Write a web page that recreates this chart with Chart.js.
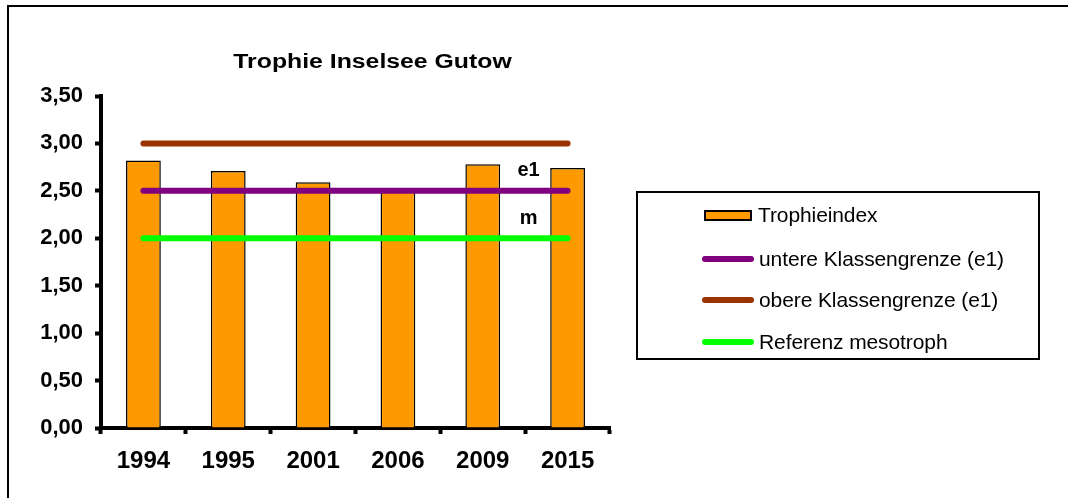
<!DOCTYPE html>
<html>
<head>
<meta charset="utf-8">
<script src="https://cdn.jsdelivr.net/npm/chart.js@4"></script>
<style>
  html, body { margin:0; padding:0; background:#fff; }
  #wrap { position:relative; width:1068px; height:498px; overflow:hidden; font-family:"Liberation Sans", Arial, sans-serif; }
  #frame { position:absolute; left:7px; top:5px; width:1100px; height:600px; border-top:2px solid #000; border-left:2px solid #000; }
  canvas { position:absolute; left:0; top:0; }
  #legend { position:absolute; left:636px; top:191px; width:400px; height:165px; border:2px solid #000; box-sizing:content-box; }
  .item { position:absolute; left:64px; height:24px; display:flex; align-items:center; font-size:21px; color:#000; white-space:nowrap; letter-spacing:-0.1px; }
  .sym { display:inline-block; margin-right:5px; }
</style>
</head>
<body>
<div id="wrap">
  <div id="frame"></div>
  <canvas id="c" width="1068" height="498"></canvas>
  <div id="legend"></div>
</div>
<script>
const chartTitle = 'Trophie Inselsee Gutow';
const categories = ['1994', '1995', '2001', '2006', '2009', '2015'];
const trophieindex = [2.82, 2.71, 2.59, 2.53, 2.78, 2.74];
const untereGrenze = [2.5, 2.5, 2.5, 2.5, 2.5, 2.5];
const obereGrenze = [3.0, 3.0, 3.0, 3.0, 3.0, 3.0];
const referenzMeso = [2.0, 2.0, 2.0, 2.0, 2.0, 2.0];
const yTickLabels = ['0,00', '0,50', '1,00', '1,50', '2,00', '2,50', '3,00', '3,50'];
const seriesNames = ['Trophieindex', 'untere Klassengrenze (e1)', 'obere Klassengrenze (e1)', 'Referenz mesotroph'];
const lineLabels = [{text:'e1', value:2.5}, {text:'m', value:2.0}];

const FONT = '"Liberation Sans", Arial, sans-serif';

const annot = {
  id: 'annot',
  afterDatasetsDraw(chart) {
    const ctx = chart.ctx;
    const xs = chart.scales.x, ys = chart.scales.y;
    ctx.save();
    ctx.fillStyle = '#000';
    ctx.textAlign = 'center';
    ctx.textBaseline = 'middle';
    // title (horizontally stretched like the original)
    const tx = (xs.getPixelForValue(2) + xs.getPixelForValue(3)) / 2 + 17;
    const ty = ys.top - 34;
    ctx.save();
    ctx.translate(tx, ty);
    ctx.scale(1.24, 1);
    ctx.font = 'bold 20px ' + FONT;
    ctx.fillText(chartTitle, 0, 0);
    ctx.restore();
    // line labels
    const x4 = xs.getPixelForValue(4), x5 = xs.getPixelForValue(5);
    const lx = x4 + (x5 - x4) * 0.54;
    ctx.font = 'bold 20px ' + FONT;
    lineLabels.forEach(l => {
      ctx.fillText(l.text, lx, ys.getPixelForValue(l.value + 0.21));
    });
    ctx.restore();
  }
};

const chart = new Chart(document.getElementById('c'), {
  data: {
    labels: categories,
    datasets: [
      { type:'bar', label: seriesNames[0], data: trophieindex, backgroundColor:'#FF9900', borderColor:'#000', borderWidth:1.5, barPercentage:0.41, categoryPercentage:1, order:2 },
      { type:'line', label: seriesNames[1], data: untereGrenze, borderColor:'#800080', borderWidth:6, pointRadius:0, borderCapStyle:'round', order:1 },
      { type:'line', label: seriesNames[2], data: obereGrenze, borderColor:'#993300', borderWidth:6, pointRadius:0, borderCapStyle:'round', order:1 },
      { type:'line', label: seriesNames[3], data: referenzMeso, borderColor:'#00FF00', borderWidth:6, pointRadius:0, borderCapStyle:'round', order:1 }
    ]
  },
  options: {
    responsive:false,
    animation:false,
    devicePixelRatio:1,
    layout: { padding: { left:0, right:458, top:96, bottom:0 } },
    plugins: { legend:{ display:false }, title:{ display:false }, tooltip:{ enabled:false } },
    scales: {
      x: {
        offset:true,
        grid: { display:true, drawOnChartArea:false, offset:true, color:'#000', tickLength:6, tickWidth:4 },
        border: { display:true, color:'#000', width:4 },
        ticks: { color:'#000', font:{ family:FONT, size:24, weight:'bold' }, padding:13, maxRotation:0 },
        afterFit(s) { s.height = 70; }
      },
      y: {
        min:0, max:3.5,
        grid: { display:true, drawOnChartArea:false, color:'#000', tickLength:6, tickWidth:4 },
        border: { display:true, color:'#000', width:4 },
        ticks: { stepSize:0.5, color:'#000', font:{ family:FONT, size:22, weight:'bold' }, padding:12,
                 callback:(v, i) => yTickLabels[i] },
        afterFit(s) { s.width = 101; }
      }
    }
  },
  plugins:[annot]
});

// HTML legend built from datasets
const leg = document.getElementById('legend');
const rowTops = [10, 54, 95, 137];
chart.data.datasets.forEach((ds, i) => {
  const it = document.createElement('div');
  it.className = 'item';
  it.style.top = rowTops[i] + 'px';
  const sym = document.createElement('span');
  sym.className = 'sym';
  if (ds.type === 'bar') {
    sym.style.cssText = 'width:44px;height:7px;background:' + ds.backgroundColor + ';border:2px solid #000;margin-left:2px;margin-right:6px;';
  } else {
    sym.style.cssText = 'width:52px;height:6px;border-radius:3px;background:' + ds.borderColor + ';';
  }
  it.appendChild(sym);
  const t = document.createElement('span');
  t.textContent = ds.label;
  it.appendChild(t);
  leg.appendChild(it);
});
</script>
</body>
</html>
